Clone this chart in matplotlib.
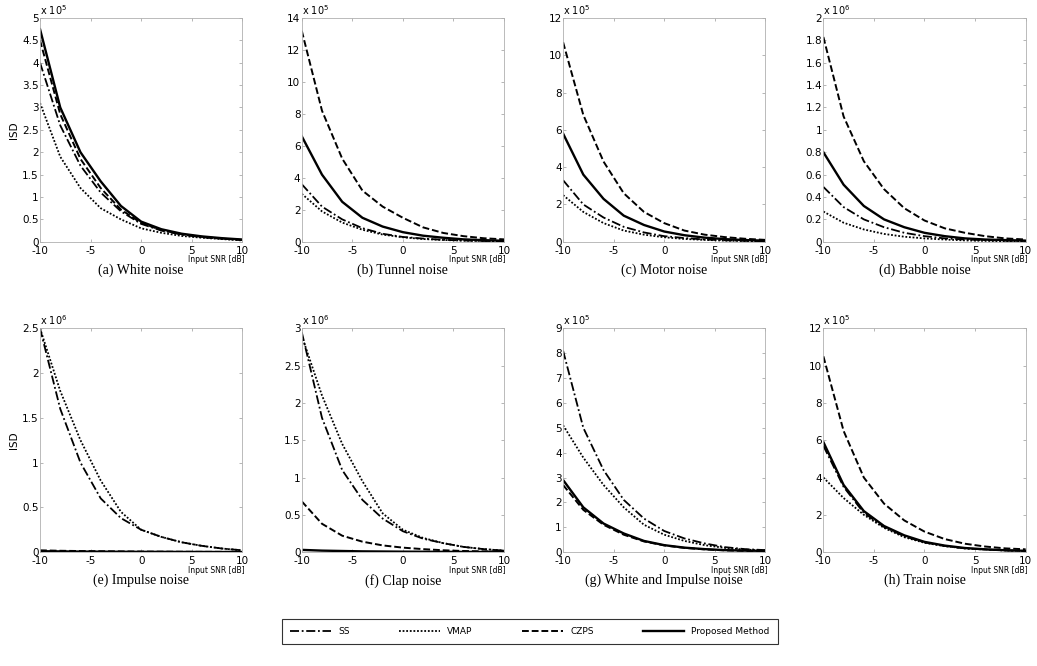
import numpy as np
import matplotlib
matplotlib.use("Agg")
import matplotlib.pyplot as plt

plt.rcParams["axes.unicode_minus"] = False

# input SNR in dB
snr = [-10, -8, -6, -4, -2, 0, 2, 4, 6, 8, 10]

titles = ["(a) White noise", "(b) Tunnel noise", "(c) Motor noise", "(d) Babble noise",
          "(e) Impulse noise", "(f) Clap noise", "(g) White and Impulse noise", "(h) Train noise"]
exps = [5, 5, 5, 6, 6, 6, 5, 5]
ymax = [5, 14, 12, 2, 2.5, 3, 9, 12]
ystep = [0.5, 2, 2, 0.2, 0.5, 0.5, 1, 2]

# ISD values (in units of 10^exp)
ss = [
    [4.0, 2.6, 1.7, 1.1, 0.68, 0.4, 0.25, 0.16, 0.1, 0.07, 0.04],
    [3.6, 2.2, 1.4, 0.85, 0.5, 0.3, 0.2, 0.12, 0.08, 0.05, 0.03],
    [3.3, 2.0, 1.3, 0.8, 0.5, 0.3, 0.2, 0.12, 0.08, 0.05, 0.03],
    [0.49, 0.31, 0.2, 0.13, 0.08, 0.05, 0.03, 0.02, 0.015, 0.01, 0.008],
    [2.5, 1.6, 1.0, 0.6, 0.38, 0.25, 0.17, 0.11, 0.07, 0.04, 0.02],
    [2.95, 1.8, 1.1, 0.7, 0.45, 0.28, 0.18, 0.12, 0.07, 0.04, 0.02],
    [8.1, 5.0, 3.3, 2.1, 1.35, 0.85, 0.55, 0.35, 0.2, 0.12, 0.08],
    [5.7, 3.5, 2.1, 1.35, 0.85, 0.52, 0.33, 0.2, 0.14, 0.09, 0.06],
]
vmap = [
    [3.1, 1.9, 1.2, 0.75, 0.5, 0.3, 0.2, 0.13, 0.09, 0.06, 0.03],
    [3.0, 1.9, 1.2, 0.75, 0.45, 0.28, 0.17, 0.11, 0.07, 0.05, 0.03],
    [2.5, 1.6, 1.0, 0.6, 0.38, 0.24, 0.15, 0.1, 0.06, 0.04, 0.03],
    [0.27, 0.17, 0.11, 0.07, 0.045, 0.03, 0.02, 0.012, 0.008, 0.005, 0.004],
    [2.5, 1.8, 1.25, 0.8, 0.45, 0.25, 0.17, 0.11, 0.07, 0.04, 0.02],
    [2.9, 2.1, 1.45, 0.95, 0.52, 0.3, 0.19, 0.12, 0.07, 0.04, 0.02],
    [5.1, 3.8, 2.7, 1.8, 1.1, 0.7, 0.45, 0.28, 0.17, 0.1, 0.07],
    [4.0, 2.9, 2.0, 1.3, 0.8, 0.5, 0.32, 0.2, 0.14, 0.09, 0.06],
]
czps = [
    [4.5, 2.85, 1.85, 1.2, 0.72, 0.42, 0.26, 0.17, 0.11, 0.07, 0.04],
    [13.2, 8.2, 5.2, 3.2, 2.2, 1.5, 0.9, 0.55, 0.35, 0.22, 0.15],
    [10.7, 6.8, 4.3, 2.6, 1.6, 1.0, 0.6, 0.38, 0.25, 0.16, 0.1],
    [1.83, 1.12, 0.72, 0.47, 0.3, 0.19, 0.12, 0.08, 0.05, 0.03, 0.02],
    [0.02, 0.015, 0.012, 0.01, 0.008, 0.006, 0.005, 0.004, 0.003, 0.003, 0.002],
    [0.68, 0.38, 0.22, 0.14, 0.09, 0.06, 0.04, 0.025, 0.015, 0.01, 0.01],
    [2.7, 1.7, 1.1, 0.7, 0.43, 0.27, 0.17, 0.11, 0.07, 0.05, 0.04],
    [10.5, 6.5, 4.0, 2.6, 1.7, 1.1, 0.7, 0.45, 0.3, 0.2, 0.15],
]
proposed = [
    [4.75, 3.0, 2.0, 1.35, 0.8, 0.45, 0.28, 0.18, 0.12, 0.08, 0.05],
    [6.6, 4.2, 2.5, 1.5, 0.95, 0.6, 0.38, 0.25, 0.15, 0.1, 0.06],
    [5.8, 3.6, 2.3, 1.4, 0.9, 0.55, 0.35, 0.22, 0.14, 0.09, 0.06],
    [0.8, 0.51, 0.32, 0.2, 0.13, 0.08, 0.05, 0.03, 0.02, 0.015, 0.01],
    [0.01, 0.008, 0.006, 0.005, 0.004, 0.003, 0.003, 0.002, 0.002, 0.001, 0.001],
    [0.03, 0.02, 0.015, 0.01, 0.008, 0.006, 0.005, 0.004, 0.003, 0.002, 0.002],
    [2.9, 1.8, 1.15, 0.75, 0.45, 0.28, 0.18, 0.12, 0.08, 0.06, 0.05],
    [5.9, 3.6, 2.2, 1.4, 0.9, 0.55, 0.35, 0.22, 0.15, 0.1, 0.07],
]

fig = plt.figure(figsize=(10.37, 6.66), dpi=100)

lefts = [0.0386, 0.291, 0.543, 0.794]
bottoms = [0.637, 0.171]
w, h = 0.195, 0.336

handles = None
for i in range(8):
    r, c = divmod(i, 4)
    ax = fig.add_axes([lefts[c], bottoms[r], w, h])
    l1, = ax.plot(snr, ss[i], color="k", ls=(0, (5, 1.5, 1, 1.5)), lw=1.3)
    l2, = ax.plot(snr, vmap[i], color="k", ls=(0, (1, 1)), lw=1.3)
    l3, = ax.plot(snr, czps[i], color="k", ls=(0, (3.5, 1.5)), lw=1.4)
    l4, = ax.plot(snr, proposed[i], color="k", ls="-", lw=1.7)
    handles = [l1, l2, l3, l4]
    ax.set_xlim(-10, 10)
    ax.set_ylim(0, ymax[i])
    ax.set_xticks([-10, -5, 0, 5, 10])
    yt = np.round(np.arange(0, ymax[i] + 1e-9, ystep[i]), 2)
    ax.set_yticks(yt)
    ax.set_yticklabels([("%g" % v) for v in yt])
    ax.tick_params(direction="in", length=2, width=0.5, labelsize=7.5, pad=1,
                   color="#999999", top=True, right=True)
    ax.tick_params(axis="x", pad=3)
    for s in ax.spines.values():
        s.set_color("#b0b0b0")
        s.set_linewidth(0.6)
    ax.text(0.0, 1.005, r"x 10$^{%d}$" % exps[i], transform=ax.transAxes,
            fontsize=7, ha="left", va="bottom")
    ax.text(1.01, -0.08, "Input SNR [dB]", transform=ax.transAxes,
            fontsize=5.5, ha="right", va="center")
    if c == 0:
        ax.set_ylabel("ISD", fontsize=7.5, labelpad=2)
    fig.text(lefts[c] + w / 2, bottoms[r] - 0.043, titles[i], ha="center", va="center",
             fontsize=10, family="Liberation Serif")

leg = fig.legend(handles, ["SS", "VMAP", "CZPS", "Proposed Method"], ncol=4,
                 loc="center", bbox_to_anchor=(0.511, 0.052), fontsize=6.5,
                 handlelength=4.5, columnspacing=5.5, fancybox=False,
                 edgecolor="k", borderpad=0.9)
leg.get_frame().set_linewidth(0.8)

fig.savefig("out.png", dpi=100)
